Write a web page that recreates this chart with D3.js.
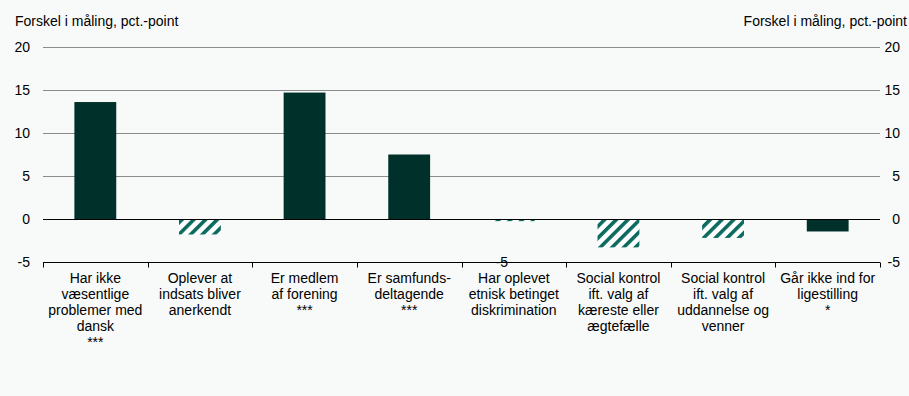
<!DOCTYPE html>
<html>
<head>
<meta charset="utf-8">
<script src="https://cdn.jsdelivr.net/npm/d3@7"></script>
<style>
  html, body { margin: 0; padding: 0; background: #f8faf9; }
  svg { display: block; font-family: "Liberation Sans", Arial, sans-serif; }
</style>
</head>
<body>
<svg id="chart" width="909" height="396"></svg>
<script>
// Category labels (line breaks with \n), values and significance markers
const categories = [
  "Har ikke\nvæsentlige\nproblemer med\ndansk\n***",
  "Oplever at\nindsats bliver\nanerkendt",
  "Er medlem\naf forening\n***",
  "Er samfunds-\ndeltagende\n***",
  "Har oplevet\netnisk betinget\ndiskrimination",
  "Social kontrol\nift. valg af\nkæreste eller\nægtefælle",
  "Social kontrol\nift. valg af\nuddannelse og\nvenner",
  "Går ikke ind for\nligestilling\n*"
];
const values = [13.6, -1.8, 14.7, 7.5, -0.25, -3.3, -2.2, -1.45];
// true = statistically significant (solid), false = not significant (hatched)
const significant = [true, false, true, true, false, false, false, true];
const yTicks = [-5, 0, 5, 10, 15, 20];
const axisTitle = "Forskel i måling, pct.-point";
const strayLabel = "-5";

const svg = d3.select("#chart");
const W = 909, H = 396;
const margin = { left: 43, right: 29, top: 47, bottom: 134 };

const x = d3.scaleBand()
  .domain(categories)
  .range([margin.left, W - margin.right])
  .paddingInner(0.6)
  .paddingOuter(0.3);

const xOuter = d3.scaleBand()
  .domain(categories)
  .range([margin.left, W - margin.right]);

const y = d3.scaleLinear()
  .domain([-5, 20])
  .range([H - margin.bottom, margin.top]);

const solid = "#00302a";
const hatch = "#0b6b5f";

// diagonal hatch fill for non-significant bars
const defs = svg.append("defs");
const pat = defs.append("pattern")
  .attr("id", "hatch")
  .attr("patternUnits", "userSpaceOnUse")
  .attr("width", 8.3)
  .attr("height", 8.3)
  .attr("patternTransform", "rotate(45)");
pat.append("rect").attr("width", 8.3).attr("height", 8.3).attr("fill", "#ffffff");
pat.append("rect").attr("x", 0).attr("width", 3.6).attr("height", 8.3).attr("fill", hatch);

// horizontal gridlines
svg.append("g")
  .selectAll("line")
  .data(yTicks.filter(d => d > 0))
  .join("line")
  .attr("x1", margin.left)
  .attr("x2", W - margin.right)
  .attr("y1", d => Math.round(y(d)) + 0.5)
  .attr("y2", d => Math.round(y(d)) + 0.5)
  .attr("stroke", "#8c8c8c")
  .attr("stroke-width", 1);

// bars
svg.append("g")
  .selectAll("rect")
  .data(values)
  .join("rect")
  .attr("x", (d, i) => x(categories[i]))
  .attr("width", x.bandwidth())
  .attr("y", d => y(Math.max(0, d)))
  .attr("height", d => Math.abs(y(d) - y(0)))
  .attr("fill", (d, i) => significant[i] ? solid : "url(#hatch)");

// zero line
svg.append("line")
  .attr("x1", margin.left)
  .attr("x2", W - margin.right)
  .attr("y1", Math.round(y(0)) + 0.5)
  .attr("y2", Math.round(y(0)) + 0.5)
  .attr("stroke", "#000")
  .attr("stroke-width", 1.2);

// bottom category axis at -5 with ticks between categories
const xAxis = d3.axisBottom(xOuter).tickSize(0).tickFormat("");
const gx = svg.append("g")
  .attr("transform", `translate(0,${Math.round(y(-5)) + 0.5})`)
  .call(xAxis);
gx.select(".domain").remove();
gx.append("line")
  .attr("x1", margin.left).attr("x2", W - margin.right)
  .attr("stroke", "#000").attr("stroke-width", 1.2);
gx.selectAll(".sep")
  .data(d3.range(categories.length + 1))
  .join("line")
  .attr("class", "sep")
  .attr("x1", i => Math.round(margin.left + i * xOuter.step()) + 0.5)
  .attr("x2", i => Math.round(margin.left + i * xOuter.step()) + 0.5)
  .attr("y1", 0)
  .attr("y2", 5)
  .attr("stroke", "#000")
  .attr("stroke-width", 1);

// category labels
const labels = svg.append("g")
  .selectAll("text")
  .data(categories)
  .join("text")
  .attr("text-anchor", "middle")
  .attr("font-size", 14)
  .attr("fill", "#000")
  .attr("transform", d => `translate(${xOuter(d) + xOuter.bandwidth() / 2},${y(-5) + 21})`);
labels.selectAll("tspan")
  .data(d => d.split("\n"))
  .join("tspan")
  .attr("x", 0)
  .attr("y", (d, i) => i * 16)
  .text(d => d);

// y tick labels left and right (plain hyphen for negatives)
const yAxisL = d3.axisLeft(y).tickValues(yTicks).tickSize(0).tickPadding(0)
  .tickFormat(d => String(d));
const gL = svg.append("g").attr("transform", "translate(30,0)").call(yAxisL);
gL.select(".domain").remove();
gL.selectAll("text").attr("font-size", 14).attr("font-family", null).attr("fill", "#000");

const gR = svg.append("g").attr("transform", "translate(900,0)").call(yAxisL);
gR.select(".domain").remove();
gR.selectAll("text").attr("font-size", 14).attr("font-family", null).attr("fill", "#000");

// axis titles
svg.append("text")
  .attr("x", 15).attr("y", 26)
  .attr("font-size", 14)
  .text(axisTitle);
svg.append("text")
  .attr("x", 907).attr("y", 26)
  .attr("text-anchor", "end")
  .attr("font-size", 14)
  .text(axisTitle);

// stray value label sitting on the bottom axis
svg.append("text")
  .attr("x", xOuter(categories[4]) + xOuter.bandwidth() / 2 - 12)
  .attr("y", y(-5))
  .attr("dy", "0.35em")
  .attr("text-anchor", "middle")
  .attr("font-size", 14)
  .text(strayLabel);
</script>
</body>
</html>
